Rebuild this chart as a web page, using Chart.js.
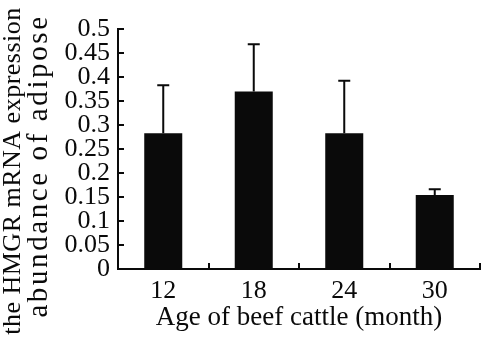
<!DOCTYPE html>
<html>
<head>
<meta charset="utf-8">
<script src="https://cdn.jsdelivr.net/npm/chart.js@4"></script>
<style>
  html, body { margin: 0; padding: 0; background: #fff; }
  #wrap { width: 485px; height: 340px; }
</style>
</head>
<body>
<div id="wrap"><canvas id="c" width="485" height="340"></canvas></div>
<script>
const ages = ['12', '18', '24', '30'];
const means = [0.283, 0.370, 0.283, 0.154];
const errors = [0.100, 0.098, 0.109, 0.012];
const yTitleLines = ['the HMGR mRNA expression', 'abundance of adipose'];
const xTitle = 'Age of beef cattle (month)';

const FONT = '"Liberation Serif", "Times New Roman", serif';
const INK = '#0a0a0a';

const errorBars = {
  id: 'errorBars',
  afterDatasetsDraw(chart) {
    const meta = chart.getDatasetMeta(0);
    const y = chart.scales.y;
    const ctx = chart.ctx;
    ctx.save();
    ctx.strokeStyle = INK;
    ctx.lineWidth = 2;
    meta.data.forEach((bar, i) => {
      const top = y.getPixelForValue(means[i] + errors[i]);
      ctx.beginPath();
      ctx.moveTo(bar.x, bar.y);
      ctx.lineTo(bar.x, top);
      ctx.moveTo(bar.x - 6, top);
      ctx.lineTo(bar.x + 6, top);
      ctx.stroke();
    });
    ctx.restore();
  }
};

const yTitle = {
  id: 'yTitle',
  afterDraw(chart) {
    const ctx = chart.ctx;
    const area = chart.chartArea;
    ctx.save();
    ctx.fillStyle = INK;
    ctx.textAlign = 'center';
    ctx.textBaseline = 'middle';
    const cy = area.bottom - 100;
    const specs = [
      {x: 13, dy: 2, size: 26, ls: '0.5px'},
      {x: 39, dy: -3, size: 29, ls: '2.6px'}
    ];
    yTitleLines.forEach((t, i) => {
      ctx.save();
      ctx.font = specs[i].size + 'px ' + FONT;
      if ('letterSpacing' in ctx) ctx.letterSpacing = specs[i].ls;
      ctx.translate(specs[i].x, cy + specs[i].dy);
      ctx.rotate(-Math.PI / 2);
      ctx.fillText(t, 0, 0);
      ctx.restore();
    });
    ctx.restore();
  }
};

new Chart(document.getElementById('c'), {
  type: 'bar',
  data: {
    labels: ages,
    datasets: [{
      data: means,
      backgroundColor: INK,
      borderWidth: 0,
      categoryPercentage: 1,
      barPercentage: 0.42
    }]
  },
  options: {
    responsive: false,
    animation: false,
    events: [],
    layout: { padding: { left: 52, right: 5, top: 29, bottom: 0 } },
    plugins: { legend: { display: false }, tooltip: { enabled: false } },
    scales: {
      x: {
        grid: { drawOnChartArea: false, color: INK, lineWidth: 2, tickLength: -6, offset: true },
        border: { color: INK, width: 2 },
        ticks: { color: INK, font: { family: FONT, size: 26 }, padding: 13, maxRotation: 0 },
        title: { display: true, text: xTitle, color: INK, font: { family: FONT, size: 27 }, padding: { top: 0, bottom: 6 } },
        afterFit(s) { s.height = 71; s.paddingLeft = 0; s.paddingRight = 0; }
      },
      y: {
        min: 0, max: 0.5,
        grid: { drawOnChartArea: false, color: INK, lineWidth: 2, tickLength: -6 },
        border: { color: INK, width: 2 },
        ticks: {
          stepSize: 0.05, autoSkip: false, color: INK, font: { family: FONT, size: 26 }, padding: 14,
          callback: v => String(parseFloat(Number(v).toFixed(2)))
        },
        afterFit(s) { s.width = 66; s.paddingTop = 0; s.paddingBottom = 0; }
      }
    }
  },
  plugins: [errorBars, yTitle]
});
</script>
</body>
</html>
